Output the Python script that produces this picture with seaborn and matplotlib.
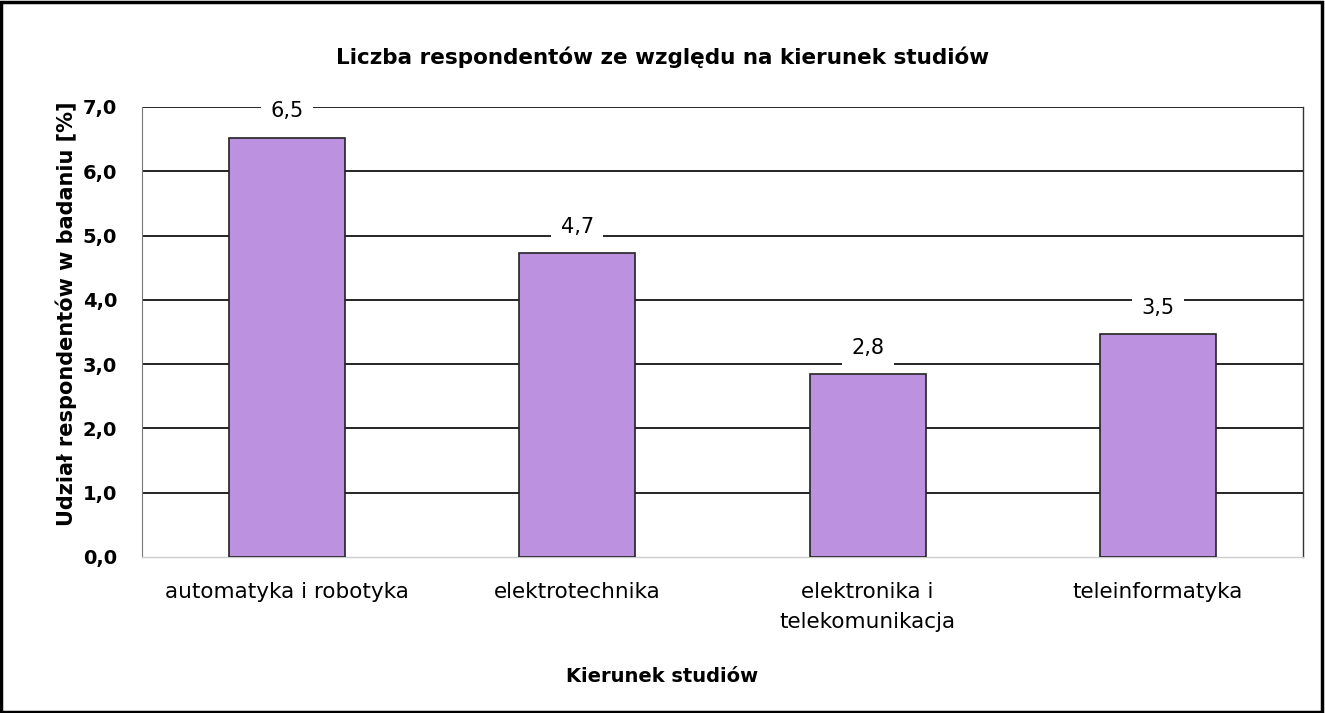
import matplotlib
matplotlib.use("Agg")
import matplotlib.pyplot as plt
import seaborn as sns
import pandas as pd
from matplotlib.patches import Rectangle

# Data
kierunki = ["automatyka i robotyka", "elektrotechnika",
            "elektronika i\ntelekomunikacja", "teleinformatyka"]
udzial = [6.52, 4.73, 2.84, 3.47]
etykiety = ["6,5", "4,7", "2,8", "3,5"]
y_ticks = [0, 1, 2, 3, 4, 5, 6, 7]

df = pd.DataFrame({"kierunek": kierunki, "udzial": udzial})

sns.set_style("white")
plt.rcParams["font.family"] = ["DejaVu Sans"]
plt.rcParams["text.color"] = "black"
plt.rcParams["xtick.color"] = "black"
plt.rcParams["ytick.color"] = "black"
plt.rcParams["axes.labelcolor"] = "black"

fig = plt.figure(figsize=(13.25, 7.13), dpi=100)
ax = fig.add_axes([0.1072, 0.2188, 0.8762, 0.6312])

sns.barplot(data=df, x="kierunek", y="udzial", color="#BC91E0",
            edgecolor="#222222", linewidth=1.2, width=0.4, saturation=1, ax=ax, zorder=3)

ax.set_ylim(0, 7)
ax.set_xlim(-0.5, 3.5)
ax.set_yticks(y_ticks)
ax.set_yticklabels([f"{v:.1f}".replace(".", ",") for v in y_ticks],
                   fontsize=14, fontweight="bold")
ax.tick_params(axis="y", length=0, pad=18)
ax.tick_params(axis="x", length=0, pad=18, labelsize=15.5)
for t in ax.get_xticklabels():
    t.set_linespacing(1.6)

for y in y_ticks[1:]:
    ax.axhline(y, color="black", linewidth=1.2, zorder=1)

ax.spines["top"].set_visible(False)
ax.spines["left"].set_color("#777777")
ax.spines["left"].set_linewidth(0.8)
ax.spines["right"].set_color("#333333")
ax.spines["right"].set_linewidth(1.0)
ax.spines["bottom"].set_color("#cccccc")
ax.spines["bottom"].set_linewidth(1.0)

for i, (v, lab) in enumerate(zip(udzial, etykiety)):
    ax.annotate(lab, xy=(i, v), xytext=(0, 19), textcoords="offset points",
                ha="center", va="center", fontsize=15, zorder=5,
                bbox=dict(boxstyle="square,pad=0.45", fc="white", ec="none"))

ax.set_xlabel("")
ax.set_ylabel("Udział respondentów w badaniu [%]", fontsize=15,
              fontweight="bold")
ax.yaxis.set_label_coords(-0.056, 0.54)

fig.text(0.5, 0.92, "Liczba respondentów ze względu na kierunek studiów",
         ha="center", va="center", fontsize=15.5, fontweight="bold")
fig.text(0.5, 1 - 677 / 713, "Kierunek studiów",
         ha="center", va="center", fontsize=14, fontweight="bold")

fig.patches.append(Rectangle((0.001, 0.002), 0.997, 0.995, transform=fig.transFigure,
                             fill=False, edgecolor="black", linewidth=2.5))

fig.savefig("out.png", dpi=100)
